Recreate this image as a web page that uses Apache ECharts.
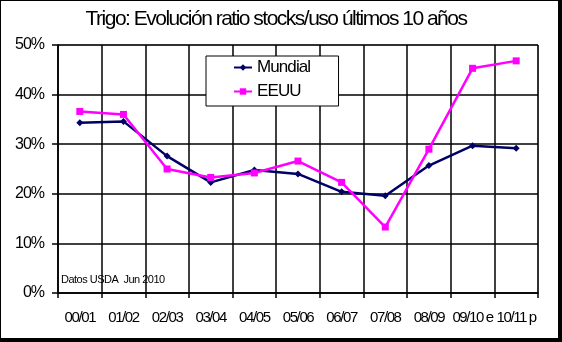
<!DOCTYPE html>
<html><head><meta charset="utf-8">
<script src="https://cdn.jsdelivr.net/npm/echarts@6/dist/echarts.min.js"></script>
<style>
html,body{margin:0;padding:0;background:#fff;}
#wrap{position:relative;width:562px;height:342px;}
#c{width:562px;height:342px;}
#frame{position:absolute;left:0;top:0;width:562px;height:342px;box-sizing:border-box;border-left:1px solid #000;border-top:1px solid #000;border-right:4px solid #000;border-bottom:4px solid #000;pointer-events:none;}
</style></head>
<body><div id="wrap"><div id="c"></div><div id="frame"></div></div>
<script>
const categories = ['00/01','01/02','02/03','03/04','04/05','05/06','06/07','07/08','08/09','09/10 e','10/11 p'];
const mundial = [34.3, 34.6, 27.6, 22.3, 24.8, 24.0, 20.4, 19.6, 25.7, 29.7, 29.2];
const eeuu    = [36.6, 36.0, 25.0, 23.3, 24.2, 26.6, 22.3, 13.3, 29.0, 45.3, 46.8];
const yTicks = [0, 10, 20, 30, 40, 50];
const FONT = "'Liberation Sans',Arial,sans-serif";

// tighten glyph spacing to imitate the narrow typeface of the original
const SPACING = {21: -1.5, 17: -0.9, 16: -1, 15: -1.4, 11: -0.5};
const origFill = CanvasRenderingContext2D.prototype.fillText;
CanvasRenderingContext2D.prototype.fillText = function () {
  const m = /(\d+(?:\.\d+)?)px/.exec(this.font || '');
  if (m && 'letterSpacing' in this) {
    const s = SPACING[Math.round(parseFloat(m[1]))];
    this.letterSpacing = (s === undefined ? 0 : s) + 'px';
  }
  return origFill.apply(this, arguments);
};

const chart = echarts.init(document.getElementById('c'));
chart.setOption({
  animation: false,
  backgroundColor: '#fff',
  grid: {left: 58, right: 24, top: 45, bottom: 49, show: true, borderColor: '#888', borderWidth: 1},
  legend: {
    orient: 'vertical', left: 206, top: 56,
    data: ['Mundial','EEUU'],
    backgroundColor: '#fff', borderColor: '#000', borderWidth: 1,
    padding: [3, 22, 6, 27], itemGap: 7, itemWidth: 18, itemHeight: 8,
    textStyle: {fontFamily: FONT, fontSize: 17, color: '#000'}
  },
  graphic: [{
    type: 'text', x: 276, y: 9, z: 10,
    style: {text: 'Trigo: Evolución ratio stocks/uso últimos 10 años', font: '21px ' + FONT,
            fill: '#000', textAlign: 'center', textVerticalAlign: 'top'}
  }, {
    type: 'text', x: 61, y: 274, z: 10,
    style: {text: 'Datos USDA  Jun 2010', font: '11px ' + FONT, fill: '#000', textVerticalAlign: 'top'}
  }],
  xAxis: {
    type: 'category', data: categories, boundaryGap: true,
    axisLine: {lineStyle: {color: '#000', width: 1.5}},
    axisTick: {show: true, length: 5, lineStyle: {color: '#000', width: 1.5}},
    axisLabel: {fontFamily: FONT, fontSize: 15, color: '#000', margin: 17, interval: 0},
    splitLine: {show: true, interval: 0, lineStyle: {color: '#000', width: 1.5}}
  },
  yAxis: {
    type: 'value', min: 0, max: 50, interval: 10,
    axisLine: {show: true, lineStyle: {color: '#000', width: 1.5}},
    axisTick: {show: true, length: 6, lineStyle: {color: '#000', width: 1.5}},
    axisLabel: {fontFamily: FONT, fontSize: 16, color: '#000', margin: 14,
      formatter: v => yTicks.includes(v) ? v + '%' : ''},
    splitLine: {show: true, lineStyle: {color: '#000', width: 1.5}}
  },
  series: [
    {name: 'Mundial', type: 'line', data: mundial, symbol: 'diamond', symbolSize: 7,
     itemStyle: {color: '#000066'}, lineStyle: {color: '#000066', width: 2.5}},
    {name: 'EEUU', type: 'line', data: eeuu, symbol: 'rect', symbolSize: 7,
     itemStyle: {color: '#ff00ff'}, lineStyle: {color: '#ff00ff', width: 2.5}}
  ]
});
</script></body></html>
